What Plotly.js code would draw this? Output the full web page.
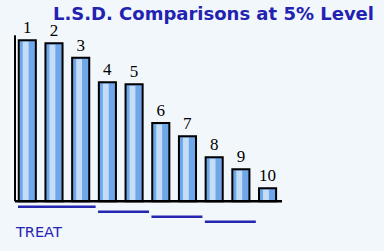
<!DOCTYPE html>
<html>
<head>
<meta charset="utf-8">
<script src="https://cdn.plot.ly/plotly-3.0.1.min.js"></script>
<style>html,body{margin:0;padding:0;background:#f2f7fb;}#chart{width:384px;height:251px;}</style>
</head>
<body>
<div id="chart"></div>
<script>
// Treatments (ranked) and their means
var treatments = [1, 2, 3, 4, 5, 6, 7, 8, 9, 10];
var treatLabels = ["1", "2", "3", "4", "5", "6", "7", "8", "9", "10"];
var means = [16.1, 15.8, 14.36, 11.9, 11.7, 7.83, 6.5, 4.4, 3.2, 1.31];
// LSD groups (treatments not significantly different), shown as underlines
var groupStart = [1, 4, 6, 8];
var groupEnd = [3, 5, 7, 9];

var BG = '#f2f7fb';
var LINE_BLUE = '#2626b0';

var traces = [];
traces.push({
  type: 'bar', x: treatments, y: means, width: 0.64,
  marker: {color: '#6ea8ea', line: {color: '#000000', width: 2}},
  text: treatLabels, textposition: 'outside', constraintext: 'none', cliponaxis: false,
  textfont: {family: 'Liberation Serif', size: 17, color: '#000000'},
  hoverinfo: 'skip', showlegend: false
});
traces.push({
  type: 'bar', x: treatments, y: means.map(function (v) { return v - 0.15; }),
  width: 0.22, offset: -0.17,
  marker: {color: '#c4dcf6', line: {width: 0}},
  hoverinfo: 'skip', showlegend: false
});
for (var g = 0; g < groupStart.length; g++) {
  var yy = -0.54 - 0.5 * g;
  traces.push({
    type: 'scatter', mode: 'lines',
    x: [groupStart[g] - 0.35, groupEnd[g] + 0.56], y: [yy, yy],
    line: {color: LINE_BLUE, width: 2.5},
    hoverinfo: 'skip', showlegend: false, cliponaxis: false
  });
}

var layout = {
  width: 384, height: 251,
  margin: {l: 10, r: 94, t: 30, b: 21, pad: 0},
  paper_bgcolor: BG, plot_bgcolor: BG,
  barmode: 'overlay',
  showlegend: false,
  title: {
    text: 'L.S.D. Comparisons at 5% Level',
    font: {family: 'DejaVu Sans', size: 18, color: '#2222b2', weight: 'bold'},
    x: 374 / 384, xref: 'container', xanchor: 'right',
    y: 1 - 13.5 / 251, yref: 'container', yanchor: 'middle'
  },
  xaxis: {range: [0.352, 10.84], visible: false, fixedrange: true},
  yaxis: {range: [-2.87, 17.13], visible: false, fixedrange: true},
  shapes: [
    {type: 'line', xref: 'x', yref: 'y', x0: 0.54, x1: 0.54, y0: 0, y1: 16.6,
     line: {color: '#000000', width: 2}, layer: 'above'},
    {type: 'line', xref: 'x', yref: 'y', x0: 0.54, x1: 10.54, y0: 0, y1: 0,
     line: {color: '#000000', width: 2.6}, layer: 'above'}
  ],
  annotations: [
    {text: 'TREAT', xref: 'paper', yref: 'paper', x: 3 / 280, y: -2 / 200,
     xanchor: 'left', yanchor: 'middle', showarrow: false,
     font: {family: 'DejaVu Sans', size: 14.5, color: '#2424b4'}}
  ]
};

Plotly.newPlot('chart', traces, layout, {displayModeBar: false, staticPlot: true});
</script>
</body>
</html>
